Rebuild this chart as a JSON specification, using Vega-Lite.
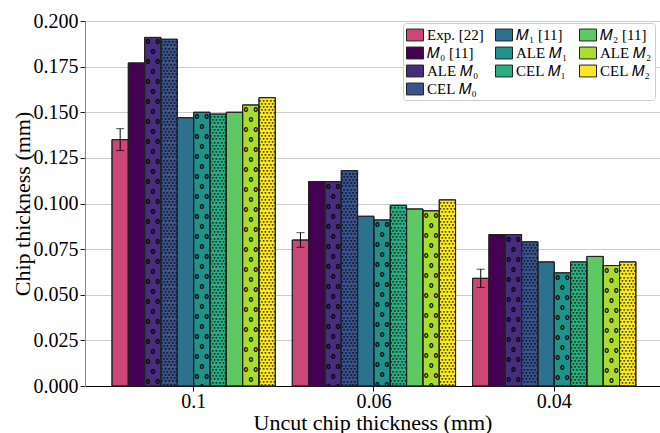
{
  "$schema": "https://vega.github.io/schema/vega-lite/v6.json",
  "width": 575,
  "height": 365,
  "autosize": {"type": "none"},
  "padding": {"left": 85, "top": 21, "right": 0, "bottom": 47},
  "background": "white",
  "config": {
    "view": {"stroke": null},
    "font": "Liberation Serif",
    "axis": {"labelFont": "Liberation Serif", "titleFont": "Liberation Serif", "labelColor": "#000", "titleColor": "#000", "titleFontWeight": "normal"},
    "legend": {"labelFont": "Liberation Serif"}
  },
  "data": {
    "values": [
      {"h": "0.1", "s": "Exp. [22]", "v": 0.135, "lo": 0.129, "hi": 0.141},
      {"h": "0.1", "s": "𝑀₀ [11]", "v": 0.177},
      {"h": "0.1", "s": "ALE 𝑀₀", "v": 0.191},
      {"h": "0.1", "s": "CEL 𝑀₀", "v": 0.190},
      {"h": "0.1", "s": "𝑀₁ [11]", "v": 0.147},
      {"h": "0.1", "s": "ALE 𝑀₁", "v": 0.150},
      {"h": "0.1", "s": "CEL 𝑀₁", "v": 0.149},
      {"h": "0.1", "s": "𝑀₂ [11]", "v": 0.150},
      {"h": "0.1", "s": "ALE 𝑀₂", "v": 0.154},
      {"h": "0.1", "s": "CEL 𝑀₂", "v": 0.158},
      {"h": "0.06", "s": "Exp. [22]", "v": 0.080, "lo": 0.076, "hi": 0.084},
      {"h": "0.06", "s": "𝑀₀ [11]", "v": 0.112},
      {"h": "0.06", "s": "ALE 𝑀₀", "v": 0.112},
      {"h": "0.06", "s": "CEL 𝑀₀", "v": 0.118},
      {"h": "0.06", "s": "𝑀₁ [11]", "v": 0.093},
      {"h": "0.06", "s": "ALE 𝑀₁", "v": 0.091},
      {"h": "0.06", "s": "CEL 𝑀₁", "v": 0.099},
      {"h": "0.06", "s": "𝑀₂ [11]", "v": 0.097},
      {"h": "0.06", "s": "ALE 𝑀₂", "v": 0.096},
      {"h": "0.06", "s": "CEL 𝑀₂", "v": 0.102},
      {"h": "0.04", "s": "Exp. [22]", "v": 0.059, "lo": 0.054, "hi": 0.064},
      {"h": "0.04", "s": "𝑀₀ [11]", "v": 0.083},
      {"h": "0.04", "s": "ALE 𝑀₀", "v": 0.083},
      {"h": "0.04", "s": "CEL 𝑀₀", "v": 0.079},
      {"h": "0.04", "s": "𝑀₁ [11]", "v": 0.068},
      {"h": "0.04", "s": "ALE 𝑀₁", "v": 0.062},
      {"h": "0.04", "s": "CEL 𝑀₁", "v": 0.068},
      {"h": "0.04", "s": "𝑀₂ [11]", "v": 0.071},
      {"h": "0.04", "s": "ALE 𝑀₂", "v": 0.066},
      {"h": "0.04", "s": "CEL 𝑀₂", "v": 0.068}
    ]
  },
  "encoding": {
    "x": {
      "field": "h", "type": "nominal", "sort": ["0.1", "0.06", "0.04"],
      "scale": {"paddingInner": 0.0943, "paddingOuter": 0.1418, "align": 0.528},
      "axis": {"title": "Uncut chip thickness (mm)", "labelAngle": 0, "labelFontSize": 20, "titleFontSize": 22, "tickSize": 5, "tickColor": "#000", "domainColor": "#000", "domainWidth": 1, "labelPadding": 0, "titlePadding": 1, "grid": false}
    },
    "xOffset": {
      "field": "s", "type": "nominal",
      "scale": {"domain": ["Exp. [22]", "𝑀₀ [11]", "ALE 𝑀₀", "CEL 𝑀₀", "𝑀₁ [11]", "ALE 𝑀₁", "CEL 𝑀₁", "𝑀₂ [11]", "ALE 𝑀₂", "CEL 𝑀₂"], "paddingInner": 0, "paddingOuter": 0}
    }
  },
  "layer": [
    {
      "mark": {"type": "bar", "stroke": "#222", "strokeWidth": 1},
      "encoding": {
        "y": {
          "field": "v", "type": "quantitative",
          "scale": {"domain": [0, 0.2], "nice": false},
          "axis": {"title": "Chip thickness (mm)", "values": [0, 0.025, 0.05, 0.075, 0.1, 0.125, 0.15, 0.175, 0.2], "format": ".3f", "labelFontSize": 20, "titleFontSize": 22, "tickSize": 5, "tickColor": "#222", "domainColor": "#888", "grid": true, "gridColor": "#cccccc", "gridWidth": 1, "labelPadding": 2, "titlePadding": -1}
        },
        "color": {
          "field": "s", "type": "nominal",
          "scale": {
            "domain": ["Exp. [22]", "𝑀₁ [11]", "𝑀₂ [11]", "𝑀₀ [11]", "ALE 𝑀₁", "ALE 𝑀₂", "ALE 𝑀₀", "CEL 𝑀₁", "CEL 𝑀₂", "CEL 𝑀₀"],
            "range": ["#cc4778", "#2c728e", "#5ec962", "#440154", "#21918c", "#addc30", "#472d7b", "#28ae80", "#fde725", "#3b528b"]
          },
          "legend": {
            "title": null, "orient": "none", "legendX": 318, "legendY": 2, "columns": 3, "direction": "horizontal",
            "labelFontSize": 15, "labelOffset": 3, "columnPadding": 9, "rowPadding": 1,
            "symbolType": "M-1,-0.7H1V0.7H-1Z", "symbolSize": 289, "symbolStrokeColor": "#222", "symbolStrokeWidth": 1, "symbolOpacity": 1,
            "padding": 3, "fillColor": "white", "strokeColor": "#cccccc", "cornerRadius": 3
          }
        }
      }
    },
    {
      "transform": [{"filter": "indexof(datum.s, 'ALE') === 0"}],
      "mark": {"type": "text", "clip": true, "font": "DejaVu Sans Mono", "fontSize": 8, "fontWeight": "bold", "lineHeight": 10, "baseline": "top", "align": "center", "dy": 1, "color": "#000",
        "text": ["o o", "o", "o o", "o", "o o", "o", "o o", "o", "o o", "o", "o o", "o", "o o", "o", "o o", "o", "o o", "o", "o o", "o", "o o", "o", "o o", "o", "o o", "o", "o o", "o", "o o", "o", "o o", "o", "o o", "o", "o o", "o"]},
      "encoding": {"y": {"field": "v", "type": "quantitative"}}
    },
    {
      "transform": [{"filter": "indexof(datum.s, 'CEL') === 0"}],
      "mark": {"type": "text", "clip": true, "font": "DejaVu Sans Mono", "fontSize": 6, "lineHeight": 3.2, "baseline": "top", "align": "center", "dy": 0, "color": "#000", "opacity": 0.85,
        "text": ["•••••", "••••", "•••••", "••••", "•••••", "••••", "•••••", "••••", "•••••", "••••", "•••••", "••••", "•••••", "••••", "•••••", "••••", "•••••", "••••", "•••••", "••••", "•••••", "••••", "•••••", "••••", "•••••", "••••", "•••••", "••••", "•••••", "••••", "•••••", "••••", "•••••", "••••", "•••••", "••••", "•••••", "••••", "•••••", "••••", "•••••", "••••", "•••••", "••••", "•••••", "••••", "•••••", "••••", "•••••", "••••", "•••••", "••••", "•••••", "••••", "•••••", "••••", "•••••", "••••", "•••••", "••••", "•••••", "••••", "•••••", "••••", "•••••", "••••", "•••••", "••••", "•••••", "••••", "•••••", "••••", "•••••", "••••", "•••••", "••••", "•••••", "••••", "•••••", "••••", "•••••", "••••", "•••••", "••••", "•••••", "••••", "•••••", "••••", "•••••", "••••", "•••••", "••••", "•••••", "••••", "•••••", "••••", "•••••", "••••", "•••••", "••••", "•••••", "••••", "•••••", "••••", "•••••", "••••", "•••••", "••••"]},
      "encoding": {"y": {"field": "v", "type": "quantitative"}}
    },
    {
      "mark": {"type": "bar", "fill": "transparent", "stroke": "#222", "strokeWidth": 1},
      "encoding": {"y": {"field": "v", "type": "quantitative"}}
    },
    {
      "transform": [{"filter": "isValid(datum.lo)"}],
      "mark": {"type": "rule", "color": "#000", "strokeWidth": 1},
      "encoding": {"y": {"field": "lo", "type": "quantitative"}, "y2": {"field": "hi"}}
    },
    {
      "transform": [{"filter": "isValid(datum.lo)"}],
      "mark": {"type": "tick", "color": "#000", "size": 8, "thickness": 1},
      "encoding": {"y": {"field": "lo", "type": "quantitative"}}
    },
    {
      "transform": [{"filter": "isValid(datum.lo)"}],
      "mark": {"type": "tick", "color": "#000", "size": 8, "thickness": 1},
      "encoding": {"y": {"field": "hi", "type": "quantitative"}}
    }
  ]
}
